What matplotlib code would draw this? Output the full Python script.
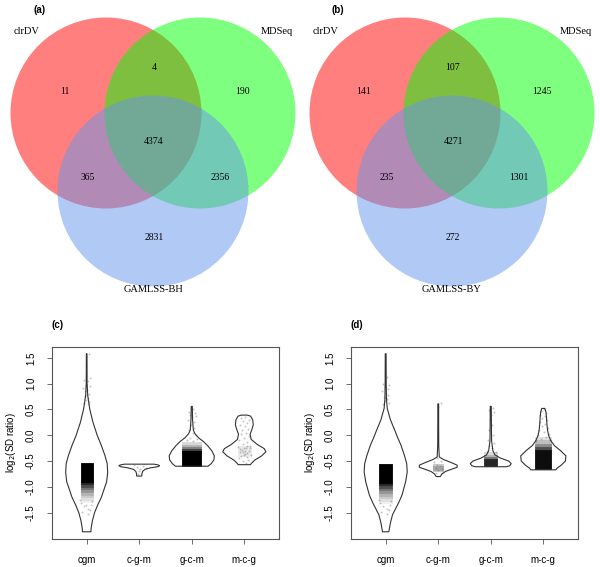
#! /bin/env python3
# plot.py
# two Venn diagrams of DV genes (a, b) and two violin plots of log2(SD ratio) (c, d)

import matplotlib
matplotlib.use("Agg")
import matplotlib.pyplot as plt
from matplotlib.patches import Circle

# ---------------- Venn data ----------------
set_names_a = ["clrDV", "MDSeq", "GAMLSS-BH"]
set_names_b = ["clrDV", "MDSeq", "GAMLSS-BY"]
# region order: clrDV only, clrDV&MDSeq, MDSeq only, all three,
#               clrDV&GAMLSS, MDSeq&GAMLSS, GAMLSS only
counts_a = [11, 4, 190, 4374, 365, 2356, 2831]
counts_b = [141, 107, 1245, 4271, 235, 1301, 272]

# ---------------- violin data ----------------
groups = ["cgm", "c-g-m", "g-c-m", "m-c-g"]

# outline of each violin: y values (top to bottom) and half widths
c_cgm_y = [1.58, 1.0, 0.77, 0.5, 0.25, 0.0, -0.2, -0.4, -0.55, -0.72, -0.9, -1.05, -1.2, -1.35, -1.5, -1.65, -1.8, -1.87]
c_cgm_w = [0.006, 0.008, 0.02, 0.06, 0.12, 0.2, 0.28, 0.35, 0.39, 0.40, 0.38, 0.33, 0.28, 0.21, 0.15, 0.11, 0.085, 0.08]
c_cgm2_y = [-0.56, -0.575, -0.59, -0.61, -0.63, -0.66, -0.7, -0.75, -0.79]
c_cgm2_w = [0.28, 0.36, 0.39, 0.35, 0.22, 0.11, 0.065, 0.05, 0.05]
c_gcm_y = [0.56, 0.3, 0.1, 0.03, -0.05, -0.12, -0.2, -0.3, -0.4, -0.48, -0.55, -0.6]
c_gcm_w = [0.01, 0.015, 0.03, 0.06, 0.13, 0.22, 0.3, 0.38, 0.43, 0.42, 0.37, 0.31]
c_mcg_y = [0.39, 0.37, 0.3, 0.2, 0.1, 0.02, -0.08, -0.18, -0.26, -0.32, -0.4, -0.48, -0.55, -0.57]
c_mcg_w = [0.06, 0.12, 0.16, 0.17, 0.14, 0.11, 0.13, 0.25, 0.38, 0.41, 0.33, 0.2, 0.13, 0.12]

d_cgm_y = [1.58, 1.0, 0.7, 0.52, 0.3, 0.13, -0.05, -0.19, -0.4, -0.55, -0.71, -0.9, -1.05, -1.16, -1.3, -1.54, -1.7, -1.87]
d_cgm_w = [0.008, 0.01, 0.015, 0.03, 0.09, 0.16, 0.23, 0.29, 0.36, 0.40, 0.41, 0.38, 0.34, 0.31, 0.25, 0.13, 0.09, 0.06]
d_cgm2_y = [0.61, 0.2, -0.2, -0.42, -0.47, -0.53, -0.58, -0.62, -0.66, -0.7, -0.75, -0.8]
d_cgm2_w = [0.008, 0.008, 0.01, 0.02, 0.1, 0.25, 0.36, 0.36, 0.25, 0.14, 0.07, 0.04]
d_gcm_y = [0.56, 0.2, -0.1, -0.3, -0.38, -0.44, -0.5, -0.55, -0.59, -0.61]
d_gcm_w = [0.01, 0.012, 0.015, 0.04, 0.08, 0.18, 0.34, 0.39, 0.36, 0.3]
d_mcg_y = [0.52, 0.45, 0.35, 0.2, 0.1, 0.0, -0.1, -0.2, -0.3, -0.4, -0.5, -0.58, -0.64, -0.67]
d_mcg_w = [0.03, 0.05, 0.06, 0.07, 0.08, 0.1, 0.14, 0.21, 0.33, 0.43, 0.42, 0.34, 0.26, 0.24]

# dense point clouds: half width, then (top, bottom, darkness) bands
c_core_w = [0.115, 0.0, 0.18, 0.12]
c_core = [
    [(-0.54, -0.9, 1.0), (-0.9, -0.95, 0.85), (-0.95, -1.0, 0.7), (-1.0, -1.05, 0.55), (-1.05, -1.1, 0.42),
     (-1.1, -1.15, 0.3), (-1.15, -1.2, 0.2), (-1.2, -1.25, 0.12), (-1.25, -1.3, 0.06)],
    [],
    [(-0.3, -0.6, 1.0), (-0.26, -0.3, 0.75), (-0.22, -0.26, 0.5), (-0.18, -0.22, 0.3), (-0.14, -0.18, 0.15)],
    [(-0.2, -0.4, 0.08)],
]
d_core_w = [0.12, 0.09, 0.12, 0.15]
d_core = [
    [(-0.55, -0.92, 1.0), (-0.92, -0.97, 0.85), (-0.97, -1.02, 0.7), (-1.02, -1.07, 0.55), (-1.07, -1.12, 0.42),
     (-1.12, -1.17, 0.3), (-1.17, -1.22, 0.2), (-1.22, -1.27, 0.12), (-1.27, -1.32, 0.06)],
    [(-0.56, -0.7, 0.22), (-0.59, -0.67, 0.35)],
    [(-0.46, -0.6, 0.85), (-0.42, -0.46, 0.55), (-0.38, -0.42, 0.3), (-0.33, -0.38, 0.15)],
    [(-0.28, -0.65, 0.95), (-0.22, -0.28, 0.7), (-0.16, -0.22, 0.45), (-0.1, -0.16, 0.25), (-0.03, -0.1, 0.12)],
]

# scattered points outside the dense clouds: (x offset, y)
c_pts = [
    [(0.05, 1.57), (-0.05, 1.07), (0.03, 1.05), (-0.02, 0.98), (0.06, 0.95), (-0.07, 0.92), (0.01, 0.88),
     (0.04, 0.8), (-0.04, 0.76), (0.02, 0.72), (-0.01, 0.68), (0.05, 0.65), (-0.06, 0.62), (0.03, 0.6),
     (0.0, 0.78), (0.07, 1.1), (-0.03, 0.85), (-0.1, -1.32), (0.08, -1.35), (-0.06, -1.38), (0.1, -1.28),
     (-0.12, -1.25), (0.02, -1.42), (0.07, -1.45), (-0.08, -1.48), (0.03, -1.52), (-0.02, -1.36)],
    [(-0.05, -0.62), (0.08, -0.6), (0.02, -0.65), (-0.1, -0.58), (0.12, -0.63), (0.0, -0.7), (-0.03, -0.75)],
    [(0.02, 0.5), (-0.05, 0.46), (0.06, 0.44), (-0.03, 0.4), (0.08, 0.38), (0.01, 0.35), (-0.07, 0.3),
     (0.04, 0.25), (-0.02, 0.2), (0.05, 0.15), (-0.06, 0.1), (0.02, 0.05), (0.08, 0.0), (-0.04, -0.05),
     (0.1, -0.08), (-0.09, -0.1), (0.03, -0.12)],
    [(0.02, 0.36), (-0.06, 0.33), (0.08, 0.3), (-0.03, 0.27), (0.05, 0.24), (-0.08, 0.2), (0.01, 0.17),
     (0.07, 0.12), (-0.04, 0.1), (0.03, 0.05), (-0.07, 0.02), (0.09, -0.02), (0.0, -0.06), (-0.1, -0.1),
     (0.06, -0.14), (-0.02, -0.17), (0.11, -0.2), (-0.12, -0.22), (0.04, -0.25), (-0.05, -0.28),
     (0.09, -0.3), (-0.09, -0.33), (0.01, -0.36), (0.12, -0.38), (-0.06, -0.4), (0.05, -0.42),
     (-0.11, -0.45), (0.07, -0.47), (-0.02, -0.5), (0.03, -0.54), (0.0, -0.25), (-0.03, -0.32),
     (0.05, -0.35), (-0.08, -0.27), (0.1, -0.24), (0.02, -0.3), (-0.01, -0.38), (0.06, -0.2)],
]
d_pts = [
    [(0.02, 1.12), (-0.05, 1.0), (0.06, 0.97), (-0.02, 0.93), (0.04, 0.9), (-0.07, 0.85), (0.01, 0.82),
     (0.05, 0.78), (-0.04, 0.74), (0.03, 0.7), (-0.01, 0.66), (0.06, 0.63), (-0.06, 0.6), (0.0, 0.72),
     (-0.1, -1.32), (0.08, -1.35), (-0.06, -1.38), (0.1, -1.28), (-0.12, -1.25), (0.02, -1.42),
     (0.07, -1.45), (-0.08, -1.48), (0.03, -1.52)],
    [(0.06, 0.62), (0.0, 0.55), (-0.02, -0.45), (0.05, -0.5), (-0.08, -0.52), (0.09, -0.72), (-0.04, -0.74),
     (0.03, -0.6), (-0.05, -0.63), (0.07, -0.66), (-0.02, -0.58), (0.0, -0.68)],
    [(0.04, 0.52), (-0.03, 0.48), (0.06, 0.45), (0.01, 0.4), (-0.02, 0.3), (0.03, 0.2), (-0.04, 0.1),
     (0.05, 0.0), (-0.06, -0.1), (0.07, -0.15), (-0.03, -0.2), (0.02, -0.25), (-0.08, -0.3), (0.09, -0.33)],
    [(0.02, 0.5), (-0.04, 0.47), (0.05, 0.44), (-0.06, 0.4), (0.03, 0.37), (-0.02, 0.33), (0.07, 0.3),
     (-0.07, 0.26), (0.04, 0.22), (-0.03, 0.18), (0.08, 0.14), (-0.09, 0.1), (0.01, 0.06), (0.1, 0.03),
     (-0.11, 0.0), (0.05, -0.04), (-0.05, -0.08), (0.12, -0.1), (-0.13, -0.12)],
]

c_outlines = [(c_cgm_y, c_cgm_w), (c_cgm2_y, c_cgm2_w), (c_gcm_y, c_gcm_w), (c_mcg_y, c_mcg_w)]
d_outlines = [(d_cgm_y, d_cgm_w), (d_cgm2_y, d_cgm2_w), (d_gcm_y, d_gcm_w), (d_mcg_y, d_mcg_w)]

W, H = 600, 567
fig = plt.figure(figsize=(6, 5.67), dpi=100)

# full-figure overlay in pixel units for the Venn panels and panel letters
over = fig.add_axes([0, 0, 1, 1])
over.set_xlim(0, W)
over.set_ylim(H, 0)
over.axis("off")

venn_colors = ["red", "lime", "cornflowerblue"]
circle_xy = [(106, 113), (200, 113), (153, 191)]
radius = 95.5
count_xy = [(65, 92), (154, 68), (243, 92), (154, 141), (88, 177), (220, 177), (154, 238)]
name_xy = [(27, 32), (277, 32), (153, 290)]


def draw_venn(ax, dx, names, counts):
    for (cx, cy), col in zip(circle_xy, venn_colors):
        ax.add_patch(Circle((cx + dx, cy), radius, facecolor=col, alpha=0.5, lw=0))
    for (x, y), n in zip(count_xy, counts):
        ax.text(x + dx, y, str(n), ha="center", va="center", fontsize=7,
                family="Liberation Serif")
    for (x, y), s in zip(name_xy, names):
        ax.text(x + dx, y, s, ha="center", va="center", fontsize=7.5,
                family="Liberation Serif")


draw_venn(over, 0, set_names_a, counts_a)
draw_venn(over, 299, set_names_b, counts_b)

for lab, (x, y) in zip(["(a)", "(b)", "(c)", "(d)"], [(40, 10), (338, 10), (58, 325), (357, 325)]):
    over.text(x, y, lab, ha="center", va="center", fontsize=7, fontweight="bold",
              family="Liberation Sans")


def draw_violins(left, outlines, core_w, cores, pts):
    ax = fig.add_axes([left / W, (H - 539) / H, 227 / W, 192 / H])
    for i, ((ys, ws), cw, bands, pp) in enumerate(zip(outlines, core_w, cores, pts)):
        pos = i + 1
        # draw lightest band first, opaque grey so the seams don't show
        for top, bot, a in sorted(bands, key=lambda b: b[2]):
            grey = str(round(1 - a, 3))
            ax.fill_between([pos - cw, pos + cw], [top, top], [bot, bot],
                            facecolor=grey, edgecolor=grey, lw=0.6)
        if pp:
            ax.scatter([pos + p[0] for p in pp], [p[1] for p in pp], s=2,
                       color="#555555", alpha=0.35, lw=0)
        xs = [pos - w for w in ws] + [pos + w for w in reversed(ws)]
        yy = list(ys) + list(reversed(ys))
        ax.fill(xs, yy, facecolor="none", edgecolor="#333333", lw=0.8)
    ax.set_xlim(0.34, 4.66)
    ax.set_ylim(-2.01, 1.71)
    ax.set_xticks(range(1, len(groups) + 1))
    ax.set_xticklabels(groups, fontsize=7, family="Liberation Sans")
    ax.set_yticks([-1.5, -1.0, -0.5, 0.0, 0.5, 1.0, 1.5])
    ax.set_yticklabels(["-1.5", "-1.0", "-0.5", "0.0", "0.5", "1.0", "1.5"],
                       fontsize=7, rotation=90, va="center", family="Liberation Sans")
    ax.tick_params(axis="both", length=3.5, width=0.6, color="#555555", pad=8)
    for sp in ax.spines.values():
        sp.set_color("#555555")
        sp.set_linewidth(0.8)
    ax.set_ylabel(r"log$_2$(SD ratio)", fontsize=7, family="Liberation Sans", labelpad=6)
    return ax


draw_violins(52, c_outlines, c_core_w, c_core, c_pts)
draw_violins(351, d_outlines, d_core_w, d_core, d_pts)

fig.savefig("out.png", dpi=100)
